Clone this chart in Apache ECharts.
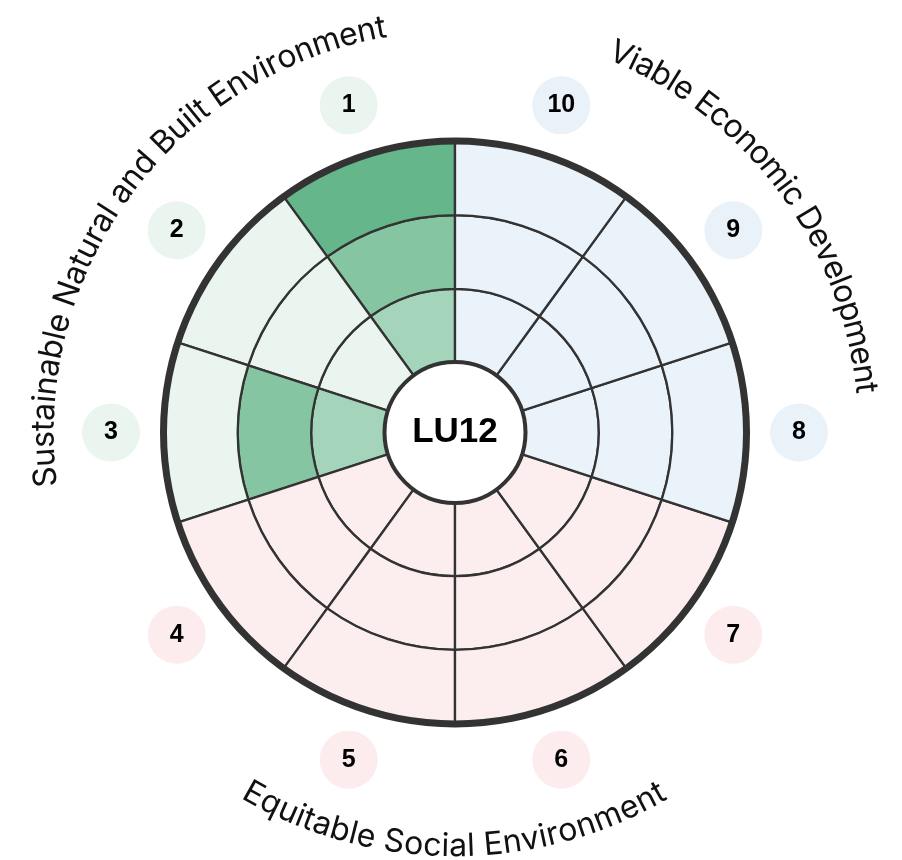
<!DOCTYPE html>
<html><head><meta charset="utf-8">
<script src="https://cdn.jsdelivr.net/npm/echarts@6/dist/echarts.min.js"></script>
<style>html,body{margin:0;padding:0;background:#fff}#c{width:902px;height:860px}</style>
</head><body><div id="c"></div>
<script>
// ---- data ----
const categories = ['1','2','3','4','5','6','7','8','9','10'];
const groupOf = ['env','env','env','soc','soc','soc','soc','eco','eco','eco'];
const scores = [3,0,2,0,0,0,0,0,0,0];
const ringCount = 3;
const centerLabel = 'LU12';
const groupNames = {
  env: 'Sustainable Natural and Built Environment',
  eco: 'Viable Economic Development',
  soc: 'Equitable Social Environment'
};

// ---- styles / layout ----
const CX = 455, CY = 432.5;
const paleColor = {env:'#ebf5ef', eco:'#ebf3fa', soc:'#fceeef'};
const badgeColor = {env:'#e9f5ee', eco:'#eaf2f9', soc:'#fcecee'};
const fillShades = ['#a4d4ba','#85c5a1','#65b68a'];
const arcLayout = [
  {group:'env', from:186.2, to:100.4, r:411, outward:true},
  {group:'eco', from:66.3, to:6.2, r:413, outward:true},
  {group:'soc', from:240.9, to:299.5, r:414, outward:false}
];
const arcFont = {size:32, family:'Inter'};

const chart = echarts.init(document.getElementById('c'), null, {renderer:'canvas'});

const hiddenAxis = {axisLine:{show:false}, axisTick:{show:false}, axisLabel:{show:false}, splitLine:{show:false}, splitArea:{show:false}};

const series = [];
for (let k = 0; k < ringCount; k++) {
  series.push({
    type:'bar', coordinateSystem:'polar', polarIndex:0, stack:'ring',
    barCategoryGap:'0%', barGap:'0%', silent:true, z:2,
    itemStyle:{borderColor:'#333', borderWidth:2.3},
    data: categories.map((c,i) => ({
      value: 1,
      itemStyle: {color: scores[i] > k ? fillShades[k] : paleColor[groupOf[i]]}
    }))
  });
}
series.push({
  type:'scatter', coordinateSystem:'polar', polarIndex:1, symbol:'circle', symbolSize:58, silent:true, z:3,
  itemStyle:{opacity:1},
  data: categories.map((c,i) => ({value:[1, i], itemStyle:{color: badgeColor[groupOf[i]], opacity:1}})),
  label:{show:true, position:'inside', formatter: p => categories[p.dataIndex], opacity:1,
    color:'#000', fontSize:25, fontWeight:'bold', fontFamily:'Liberation Sans'}
});
series.push({
  type:'pie', center:[CX,CY], radius:[288,295], silent:true, z:4, animation:false,
  data:[{value:1, name:''}], itemStyle:{color:'#333', borderWidth:0},
  label:{show:false}, labelLine:{show:false}, emphasis:{disabled:true}
});
series.push({
  type:'pie', center:[CX,CY], radius:[0,70.5], silent:true, z:5, animation:false,
  data:[{value:1, name:centerLabel}],
  itemStyle:{color:'#fff', borderColor:'#333', borderWidth:4},
  label:{show:true, position:'center', formatter:'{b}', fontSize:35, fontWeight:'bold', color:'#000', fontFamily:'Liberation Sans'},
  labelLine:{show:false}, emphasis:{disabled:true}
});

// curved group titles
const measureCtx = document.createElement('canvas').getContext('2d');
measureCtx.font = arcFont.size + 'px ' + arcFont.family;
const graphic = [];
arcLayout.forEach(a => {
  const s = groupNames[a.group];
  const chars = Array.from(s);
  const widths = chars.map(ch => measureCtx.measureText(ch).width);
  const centers = [];
  let acc = 0;
  widths.forEach(w => { centers.push(acc + w/2); acc += w; });
  const c0 = centers[0], c1 = centers[centers.length-1];
  chars.forEach((ch, j) => {
    if (ch === ' ') return;
    const deg = a.from + (centers[j]-c0)/(c1-c0)*(a.to-a.from);
    const t = deg*Math.PI/180;
    graphic.push({
      type:'text', silent:true, z:10,
      x: CX + a.r*Math.cos(t), y: CY - a.r*Math.sin(t),
      rotation: a.outward ? t - Math.PI/2 : t + Math.PI/2,
      style:{text:ch, fontSize:arcFont.size, fontFamily:arcFont.family, fill:'#111', align:'center', verticalAlign:'middle'}
    });
  });
});

chart.setOption({
  backgroundColor:'#fff',
  animation:false,
  polar:[{center:[CX,CY], radius:[70,291]}, {center:[CX,CY], radius:[0,344]}],
  angleAxis:[
    Object.assign({polarIndex:0, type:'category', data:categories, startAngle:90, clockwise:false, boundaryGap:true}, hiddenAxis),
    Object.assign({polarIndex:1, type:'category', data:categories, startAngle:90, clockwise:false, boundaryGap:true}, hiddenAxis)
  ],
  radiusAxis:[
    Object.assign({polarIndex:0, type:'value', min:0, max:ringCount, interval:1}, hiddenAxis),
    Object.assign({polarIndex:1, type:'value', min:0, max:1, interval:1}, hiddenAxis)
  ],
  series: series,
  graphic: graphic
});
</script>
</body></html>
